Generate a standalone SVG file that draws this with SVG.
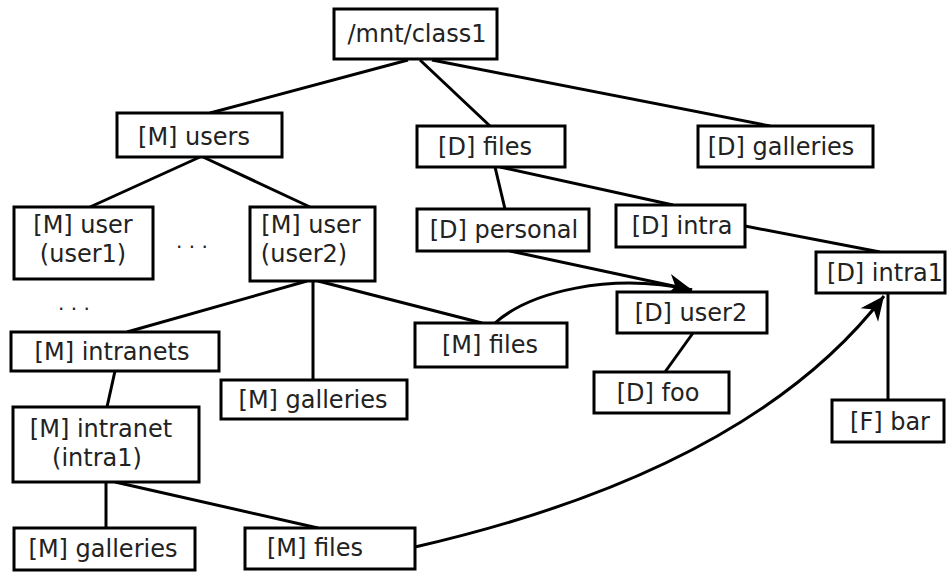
<svg xmlns="http://www.w3.org/2000/svg" width="948" height="572" viewBox="0 0 948 572">
<style>
.box{fill:#fff;stroke:#000;stroke-width:3}
.t{font-family:"DejaVu Sans",sans-serif;font-size:24px;fill:#222;text-anchor:middle}
.c{fill:none;stroke:#000;stroke-width:3}
.dots{font-family:"DejaVu Sans",sans-serif;font-size:20px;fill:#222}
</style>
<defs>
<marker id="arr" markerUnits="userSpaceOnUse" markerWidth="28" markerHeight="26" viewBox="-26 -13 28 26" refX="0" refY="0" orient="auto">
<path d="M0,0 L-24,-11 L-17,0 L-24,11 Z" fill="#000"/>
</marker>
</defs>
<rect width="948" height="572" fill="#fff"/>
<g id="connectors">
<line class="c" x1="408" y1="60" x2="210" y2="113"/>
<line class="c" x1="420" y1="60" x2="490" y2="126"/>
<line class="c" x1="432" y1="60" x2="770" y2="126"/>
<line class="c" x1="200" y1="157" x2="90" y2="207"/>
<line class="c" x1="203" y1="157" x2="310" y2="207"/>
<line class="c" x1="307" y1="281" x2="127" y2="332"/>
<line class="c" x1="313" y1="281" x2="313" y2="380"/>
<line class="c" x1="318" y1="281" x2="482" y2="323"/>
<line class="c" x1="495" y1="167" x2="505" y2="209"/>
<line class="c" x1="500" y1="167" x2="673" y2="205"/>
<line class="c" x1="745" y1="226" x2="880" y2="252"/>
<line class="c" x1="888" y1="293" x2="888" y2="400"/>
<line class="c" x1="693" y1="333" x2="665" y2="372"/>
<line class="c" x1="510" y1="251" x2="692" y2="290"/>
<path class="c" d="M495,323 C530,292 610,272 692,290" marker-end="url(#arr)"/>
<line class="c" x1="115" y1="371" x2="107" y2="407"/>
<line class="c" x1="106" y1="482" x2="106" y2="528"/>
<line class="c" x1="115" y1="482" x2="318" y2="528"/>
<path class="c" d="M415,547 Q750,470 884,296" marker-end="url(#arr)"/>
</g>
<g id="root"><rect class="box" x="334" y="9" width="163" height="50"/><text class="t" x="417" y="42">/mnt/class1</text></g>
<g id="m-users"><rect class="box" x="117" y="113" width="165" height="44"/><text class="t" x="194" y="145">[M] users</text></g>
<g id="m-user1"><rect class="box" x="14" y="207" width="139" height="72"/><text class="t" x="83" y="233">[M] user</text><text class="t" x="83" y="262">(user1)</text></g>
<g id="m-user2"><rect class="box" x="250" y="207" width="125" height="74"/><text class="t" x="311" y="233">[M] user</text><text class="t" x="304" y="262">(user2)</text></g>
<g id="d-files"><rect class="box" x="417" y="126" width="148" height="41"/><text class="t" x="485" y="155">[D] files</text></g>
<g id="d-galleries"><rect class="box" x="698" y="126" width="175" height="41"/><text class="t" x="781" y="155">[D] galleries</text></g>
<g id="d-personal"><rect class="box" x="417" y="209" width="172" height="42"/><text class="t" x="504" y="238">[D] personal</text></g>
<g id="d-intra"><rect class="box" x="616" y="205" width="129" height="42"/><text class="t" x="682" y="234">[D] intra</text></g>
<g id="d-intra1"><rect class="box" x="816" y="252" width="129" height="41"/><text class="t" x="885" y="281">[D] intra1</text></g>
<g id="d-user2"><rect class="box" x="617" y="292" width="150" height="41"/><text class="t" x="691" y="321">[D] user2</text></g>
<g id="d-foo"><rect class="box" x="594" y="372" width="135" height="41"/><text class="t" x="658" y="401">[D] foo</text></g>
<g id="f-bar"><rect class="box" x="832" y="400" width="112" height="42"/><text class="t" x="890" y="430">[F] bar</text></g>
<g id="m-files-mid"><rect class="box" x="415" y="323" width="152" height="44"/><text class="t" x="490" y="353">[M] files</text></g>
<g id="m-intranets"><rect class="box" x="11" y="332" width="208" height="39"/><text class="t" x="112" y="360">[M] intranets</text></g>
<g id="m-galleries-mid"><rect class="box" x="221" y="380" width="186" height="39"/><text class="t" x="313" y="408">[M] galleries</text></g>
<g id="m-intranet"><rect class="box" x="13" y="407" width="186" height="75"/><text class="t" x="101" y="437">[M] intranet</text><text class="t" x="97" y="466">(intra1)</text></g>
<g id="m-galleries-bot"><rect class="box" x="14" y="528" width="181" height="42"/><text class="t" x="103" y="557">[M] galleries</text></g>
<g id="m-files-bot"><rect class="box" x="245" y="528" width="170" height="41"/><text class="t" x="315" y="556">[M] files</text></g>
<g id="ellipses">
<text class="dots" x="176" y="254">· · ·</text>
<text class="dots" x="58" y="316">· · ·</text>
</g>
</svg>
